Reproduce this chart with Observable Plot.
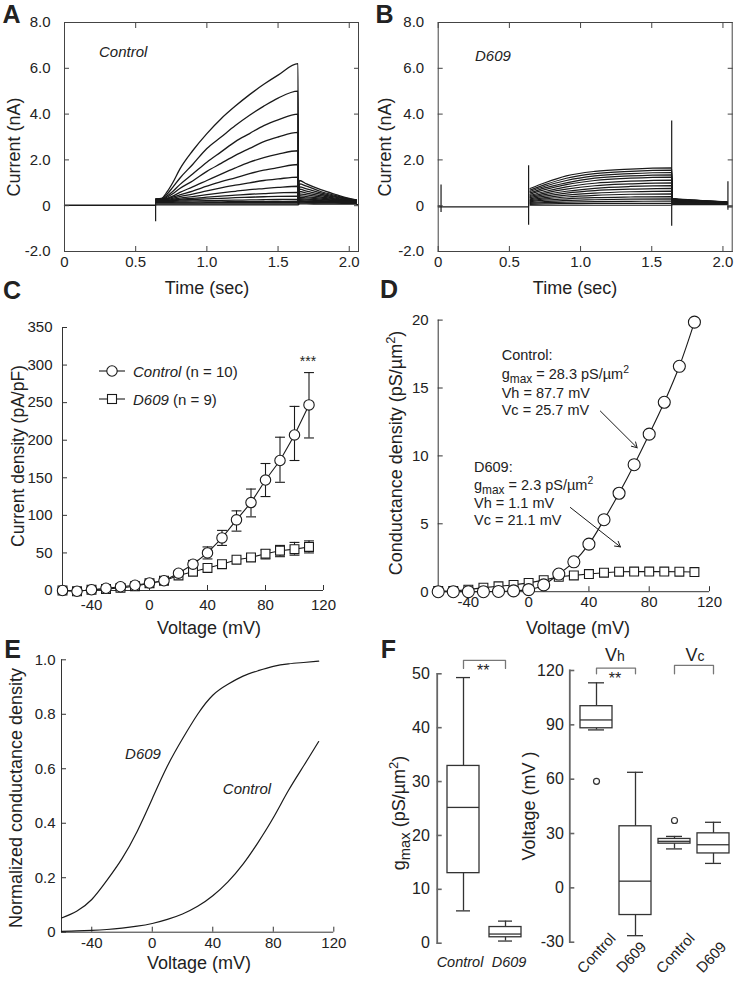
<!DOCTYPE html>
<html><head><meta charset="utf-8">
<script src="https://cdn.jsdelivr.net/npm/d3@7"></script>
<script src="https://cdn.jsdelivr.net/npm/@observablehq/plot@0.6"></script>
<style>
body{margin:0;background:#fff;}
#root{position:relative;width:743px;height:990px;overflow:hidden;font-family:"Liberation Sans",Arial,sans-serif;color:#222;background:#fff;}
.abs{position:absolute;white-space:nowrap;line-height:1;}
sub{font-size:0.82em;vertical-align:-0.35em;line-height:0;}
sup{font-size:0.72em;vertical-align:0.55em;line-height:0;}
</style>
</head><body><div id="root"></div>
<script>
// ---------- Panel A: Control current traces ----------
const timeTicks = [0, 0.5, 1.0, 1.5, 2.0];
const currTicks = [-2, 0, 2, 4, 6, 8];
const tA = [0.645,0.68,0.72,0.76,0.81,0.9,1.0,1.1,1.2,1.3,1.4,1.5,1.64,1.642,1.65,1.7,1.8,1.9,2.0,2.05];
const ctrlTraces = [
  [0.3,0.32,0.6,1.0,1.6,2.4,3.15,3.8,4.35,4.85,5.3,5.7,6.2,0.1,1.1,0.95,0.7,0.5,0.32,0.25],
  [0.3,0.3,0.5,0.8,1.2,1.8,2.5,3.0,3.5,3.95,4.35,4.7,5.0,0.1,0.95,0.85,0.62,0.45,0.3,0.25],
  [0.28,0.28,0.42,0.62,0.92,1.38,1.9,2.35,2.8,3.15,3.5,3.75,4.0,0.1,0.82,0.74,0.56,0.41,0.29,0.24],
  [0.27,0.27,0.37,0.52,0.75,1.08,1.5,1.85,2.2,2.5,2.8,3.0,3.2,0.1,0.72,0.64,0.5,0.37,0.27,0.23],
  [0.26,0.26,0.32,0.42,0.58,0.82,1.1,1.38,1.65,1.9,2.1,2.25,2.4,0.1,0.62,0.55,0.44,0.33,0.25,0.22],
  [0.25,0.25,0.3,0.37,0.47,0.64,0.85,1.05,1.22,1.4,1.55,1.66,1.8,0.1,0.52,0.47,0.38,0.3,0.23,0.21],
  [0.24,0.24,0.27,0.32,0.4,0.51,0.65,0.78,0.9,1.0,1.1,1.17,1.25,0.1,0.44,0.4,0.33,0.27,0.22,0.2],
  [0.23,0.23,0.25,0.28,0.33,0.4,0.48,0.56,0.63,0.7,0.75,0.8,0.85,0.1,0.37,0.34,0.29,0.24,0.21,0.19],
  [0.22,0.22,0.23,0.25,0.28,0.32,0.37,0.42,0.46,0.5,0.53,0.56,0.58,0.1,0.31,0.29,0.25,0.22,0.2,0.18],
  [0.2,0.2,0.21,0.22,0.24,0.27,0.3,0.32,0.35,0.37,0.39,0.41,0.42,0.1,0.26,0.25,0.22,0.2,0.18,0.17],
  [0.18,0.18,0.18,0.19,0.2,0.21,0.22,0.23,0.24,0.25,0.26,0.27,0.28,0.1,0.22,0.21,0.19,0.18,0.17,0.16],
  [0.15,0.15,0.15,0.15,0.16,0.16,0.17,0.17,0.18,0.18,0.18,0.19,0.2,0.1,0.19,0.18,0.17,0.16,0.15,0.15],
  [0.12,0.12,0.12,0.12,0.12,0.12,0.13,0.13,0.13,0.13,0.13,0.13,0.13,0.1,0.16,0.15,0.14,0.14,0.13,0.13],
  [0.08,0.08,0.08,0.08,0.08,0.08,0.08,0.08,0.08,0.08,0.08,0.08,0.08,0.06,0.12,0.12,0.11,0.11,0.1,0.1],
  [0.04,0.04,0.04,0.04,0.04,0.04,0.04,0.04,0.04,0.04,0.04,0.04,0.04,0.04,0.08,0.08,0.07,0.07,0.07,0.07]
];
const baseTA = [0, 0.64, 2.052, 2.065];
const baseVA = [0.02, 0.02, 0.05, 0.05];
const baseSegA = [0, 0, 1, 1];
const spikeTA = [0.64];
const spikeLoA = [-0.7];
const spikeHiA = [0.3];

// ---------- Panel B: D609 current traces ----------
const tB = [0.645,0.75,0.9,1.1,1.35,1.64,1.645,1.8,2.03];
const d609Traces = [
  [0.75,1.0,1.3,1.5,1.6,1.65,0.32,0.25,0.17],
  [0.68,0.92,1.2,1.4,1.5,1.55,0.3,0.24,0.16],
  [0.62,0.85,1.1,1.3,1.4,1.45,0.29,0.23,0.16],
  [0.56,0.78,1.0,1.2,1.3,1.35,0.28,0.22,0.15],
  [0.5,0.7,0.92,1.1,1.2,1.25,0.27,0.21,0.15],
  [0.45,0.62,0.82,0.98,1.07,1.12,0.26,0.2,0.14],
  [0.4,0.55,0.72,0.87,0.95,1.0,0.25,0.19,0.14],
  [0.35,0.48,0.63,0.76,0.84,0.88,0.24,0.18,0.13],
  [0.3,0.42,0.55,0.66,0.72,0.76,0.22,0.17,0.13],
  [0.26,0.35,0.46,0.55,0.61,0.64,0.2,0.16,0.12],
  [0.22,0.3,0.38,0.45,0.5,0.52,0.18,0.15,0.12],
  [0.18,0.24,0.3,0.35,0.38,0.4,0.16,0.14,0.11],
  [0.14,0.18,0.23,0.26,0.29,0.3,0.14,0.12,0.1],
  [0.1,0.13,0.16,0.18,0.19,0.2,0.12,0.11,0.09],
  [0.06,0.08,0.09,0.1,0.1,0.1,0.1,0.09,0.08],
  [0.02,0.02,0.02,0.02,0.02,0.02,0.05,0.05,0.05]
];
const baseTB = [0, 0.635, 2.035, 2.065];
const baseVB = [-0.05, -0.05, -0.05, -0.05];
const baseSegB = [0, 0, 1, 1];
const spikeTB = [0.02, 0.635, 1.64, 2.035];
const spikeLoB = [-0.3, -0.85, -0.9, -0.2];
const spikeHiB = [0.9, 1.75, 3.7, 1.05];

// ---------- Panel C: current density ----------
const voltTicks = [-40, 0, 40, 80, 120];
const densTicks = [0, 50, 100, 150, 200, 250, 300, 350];
const voltC = [-60,-50,-40,-30,-20,-10,0,10,20,30,40,50,60,70,80,90,100,110];
const ctrlC = [0,-1,1,3,5,7,10,13,23,35,50,70,94,117,147,173,207,247];
const d609C = [0,-1,1,2,3.5,5.7,9.7,13,20,25,30,35,41,44,49,53,55,58];
const ctrlErrV = [30,40,50,60,70,80,90,100,110];
const ctrlErrLo = [30,42,60,79,98,125,144,173,203];
const ctrlErrHi = [40,58,80,106,135,169,204,245,290];
const d609ErrV = [70,80,90,100,110];
const d609ErrLo = [40,42,45,47,50];
const d609ErrHi = [48,54,60,64,66];

// ---------- Panel D: conductance density ----------
const condTicks = [0, 5, 10, 15, 20];
const voltD = [-60,-50,-40,-30,-20,-10,0,10,20,30,40,50,60,70,80,90,100,110];
const ctrlD = [0,0,0,0,0.02,0.06,0.15,0.5,1.3,2.2,3.5,5.3,7.25,9.35,11.6,13.95,16.6,19.85];
const d609D = [0.05,0.05,0.15,0.3,0.4,0.5,0.65,0.85,1.1,1.2,1.3,1.4,1.47,1.48,1.48,1.48,1.47,1.45];
const arrowsD = [
  {x1: 47.6, y1: 13.3, x2: 72, y2: 10.6},
  {x1: 27.7, y1: 6.2, x2: 60.9, y2: 3.3}
];

// ---------- Panel E: normalized conductance ----------
const normTicks = [0, 0.2, 0.4, 0.6, 0.8, 1.0];
const voltE = [-60,-50,-40,-30,-20,-10,0,10,20,30,40,50,60,70,80,90,100,110];
const d609E = [0.052,0.077,0.12,0.19,0.27,0.37,0.49,0.61,0.71,0.8,0.87,0.91,0.94,0.96,0.976,0.985,0.99,0.995];
const ctrlE = [0.003,0.005,0.007,0.01,0.015,0.022,0.032,0.047,0.067,0.095,0.134,0.185,0.25,0.33,0.42,0.52,0.61,0.70];

// ---------- Panel F: box plots ----------
const gGroups = ["Control", "D609"];
const gLo = [6, 0.4], gQ1 = [13, 1.1], gMed = [25.2, 1.7], gQ3 = [32.9, 3.0], gHi = [49.3, 4.1];
const gTicks = [0, 10, 20, 30, 40, 50];
const vKeys = ["VhC", "VhD", "VcC", "VcD"];
const vLabels = ["Control", "D609", "Control", "D609"];
const vLo = [87.2, -26.4, 21.5, 13.5], vQ1 = [88.1, -15, 24.4, 19], vMed = [92.7, 3.7, 25.7, 23.8], vQ3 = [100.3, 34, 27, 30.1], vHi = [113.2, 63.8, 28.4, 36.2];
const vOutKey = ["VhC", "VcC"], vOutVal = [58.8, 37.2];
const vTicks = [-30, 0, 30, 60, 90, 120];

// ================= drawing =================
const root = document.getElementById("root");
const FONT = '"Liberation Sans", Arial, sans-serif';
const INK = "#1a1a1a";
const style = {fontFamily: FONT, fontSize: "15px", color: "#222", background: "transparent", overflow: "visible"};
const fmt1 = d => d === 0 ? "0" : d.toFixed(1);
const fmtInt = d => String(d);

function place(svg, left, top) {
  svg.style.position = "absolute";
  svg.style.left = left + "px";
  svg.style.top = top + "px";
  root.appendChild(svg);
}
function label(html, x, y, o = {}) {
  const d = document.createElement("div");
  d.className = "abs";
  d.innerHTML = html;
  d.style.left = x + "px";
  d.style.top = y + "px";
  d.style.fontSize = (o.size || 18) + "px";
  if (o.bold) d.style.fontWeight = "bold";
  if (o.italic) d.style.fontStyle = "italic";
  const ax = o.anchor === "start" ? "0" : "-50%";
  d.style.transform = `translate(${ax},-50%)` + (o.rotate ? ` rotate(${o.rotate}deg)` : "");
  root.appendChild(d);
}
const capSymbol = {draw(ctx, size) { const w = Math.sqrt(size) / 2; ctx.moveTo(-w, 0); ctx.lineTo(w, 0); }};

// ---- A ----
{
  const rows = ctrlTraces.flatMap((vals, k) => vals.map((v, i) => ({k, t: tA[i], v})));
  const base = baseTA.map((t, i) => ({t, v: baseVA[i], s: baseSegA[i]}));
  const spikes = spikeTA.map((t, i) => ({t, lo: spikeLoA[i], hi: spikeHiA[i]}));
  place(Plot.plot({
    width: 370, height: 300, marginLeft: 64, marginRight: 12, marginTop: 22, marginBottom: 49,
    style, x: {domain: [0, 2.065]}, y: {domain: [-2, 8]},
    marks: [
      Plot.line(base, {x: "t", y: "v", z: "s", stroke: INK, strokeWidth: 1.3}),
      Plot.line(rows, {x: "t", y: "v", z: "k", curve: "monotone-x", stroke: INK, strokeWidth: 1.3}),
      Plot.ruleX(spikes, {x: "t", y1: "lo", y2: "hi", stroke: INK, strokeWidth: 1.2}),
      Plot.frame({stroke: "#444"}),
      Plot.axisX({ticks: timeTicks, tickFormat: fmt1, tickSize: -5, tickPadding: 10, label: null, stroke: "#444"}),
      Plot.axisX({anchor: "top", ticks: timeTicks, tickSize: -5, fill: "none", label: null, stroke: "#444"}),
      Plot.axisY({ticks: currTicks, tickFormat: fmt1, tickSize: -5, tickPadding: 19, label: null, stroke: "#444"}),
      Plot.axisY({anchor: "right", ticks: currTicks, tickSize: -5, fill: "none", label: null, stroke: "#444"})
    ]
  }), 0, 0);
}
// ---- B ----
{
  const rows = d609Traces.flatMap((vals, k) => vals.map((v, i) => ({k, t: tB[i], v})));
  const base = baseTB.map((t, i) => ({t, v: baseVB[i], s: baseSegB[i]}));
  const spikes = spikeTB.map((t, i) => ({t, lo: spikeLoB[i], hi: spikeHiB[i]}));
  place(Plot.plot({
    width: 373, height: 300, marginLeft: 67.7, marginRight: 11.3, marginTop: 22, marginBottom: 49,
    style, x: {domain: [0, 2.065]}, y: {domain: [-2, 8]},
    marks: [
      Plot.line(base, {x: "t", y: "v", z: "s", stroke: INK, strokeWidth: 1.3}),
      Plot.line(rows, {x: "t", y: "v", z: "k", curve: "monotone-x", stroke: INK, strokeWidth: 1.2}),
      Plot.ruleX(spikes, {x: "t", y1: "lo", y2: "hi", stroke: INK, strokeWidth: 1.2}),
      Plot.frame({stroke: "#444"}),
      Plot.axisX({ticks: timeTicks, tickFormat: fmt1, tickSize: -5, tickPadding: 10, label: null, stroke: "#444"}),
      Plot.axisX({anchor: "top", ticks: timeTicks, tickSize: -5, fill: "none", label: null, stroke: "#444"}),
      Plot.axisY({ticks: currTicks, tickFormat: fmt1, tickSize: -5, tickPadding: 19, label: null, stroke: "#444"}),
      Plot.axisY({anchor: "right", ticks: currTicks, tickSize: -5, fill: "none", label: null, stroke: "#444"})
    ]
  }), 370, 0);
}
// ---- C ----
{
  const ctrl = voltC.map((v, i) => ({v, y: ctrlC[i]}));
  const d609 = voltC.map((v, i) => ({v, y: d609C[i]}));
  const ce = ctrlErrV.map((v, i) => ({v, lo: ctrlErrLo[i], hi: ctrlErrHi[i]}));
  const de = d609ErrV.map((v, i) => ({v, lo: d609ErrLo[i], hi: d609ErrHi[i]}));
  const err = [...ce, ...de];
  place(Plot.plot({
    width: 370, height: 320, marginLeft: 62, marginRight: 47, marginTop: 27, marginBottom: 30,
    style, x: {domain: [-60, 120]}, y: {domain: [0, 350]},
    marks: [
      Plot.ruleY([0], {stroke: "#333"}),
      Plot.ruleX([-60], {stroke: "#333"}),
      Plot.axisX({ticks: voltTicks, tickFormat: fmtInt, tickSize: -5, tickPadding: 14, label: null, stroke: "#333"}),
      Plot.axisY({ticks: densTicks, tickFormat: fmtInt, tickSize: -5, tickPadding: 15, label: null, stroke: "#333"}),
      Plot.ruleX(err, {x: "v", y1: "lo", y2: "hi", stroke: INK, strokeWidth: 1.1}),
      Plot.dot(err, {x: "v", y: "lo", symbol: capSymbol, r: 5.6, fill: "none", stroke: INK, strokeWidth: 1.1}),
      Plot.dot(err, {x: "v", y: "hi", symbol: capSymbol, r: 5.6, fill: "none", stroke: INK, strokeWidth: 1.1}),
      Plot.line(d609, {x: "v", y: "y", stroke: INK, strokeWidth: 1.1}),
      Plot.line(ctrl, {x: "v", y: "y", stroke: INK, strokeWidth: 1.1}),
      Plot.dot(d609, {x: "v", y: "y", symbol: "square", r: 5, fill: "white", stroke: INK, strokeWidth: 1.1}),
      Plot.dot(ctrl, {x: "v", y: "y", symbol: "circle", r: 5.2, fill: "white", stroke: INK, strokeWidth: 1.1})
    ]
  }), 0, 300);
}
// ---- D ----
{
  const ctrl = voltD.map((v, i) => ({v, y: ctrlD[i]}));
  const d609 = voltD.map((v, i) => ({v, y: d609D[i]}));
  place(Plot.plot({
    width: 373, height: 320, marginLeft: 67.7, marginRight: 34, marginTop: 19.6, marginBottom: 28.8,
    style, x: {domain: [-60, 120]}, y: {domain: [0, 20]},
    marks: [
      Plot.ruleY([0], {stroke: "#333"}),
      Plot.ruleX([-60], {stroke: "#333"}),
      Plot.axisX({ticks: voltTicks, tickFormat: fmtInt, tickSize: -5, tickPadding: 10, label: null, stroke: "#333"}),
      Plot.axisY({ticks: condTicks, tickFormat: fmtInt, tickSize: -5, tickPadding: 14.5, label: null, stroke: "#333"}),
      Plot.line(d609, {x: "v", y: "y", stroke: INK, strokeWidth: 1.1}),
      Plot.line(ctrl, {x: "v", y: "y", curve: "catmull-rom", stroke: INK, strokeWidth: 1.1}),
      Plot.dot(d609, {x: "v", y: "y", symbol: "square", r: 5, fill: "white", stroke: INK, strokeWidth: 1.1}),
      Plot.dot(ctrl, {x: "v", y: "y", symbol: "circle", r: 6, fill: "white", stroke: INK, strokeWidth: 1.1}),
      Plot.arrow(arrowsD, {x1: "x1", y1: "y1", x2: "x2", y2: "y2", stroke: INK, strokeWidth: 1, headLength: 9})
    ]
  }), 370, 300);
}
// ---- E ----
{
  const rows = [...voltE.map((v, i) => ({g: "D609", v, y: d609E[i]})), ...voltE.map((v, i) => ({g: "Control", v, y: ctrlE[i]}))];
  place(Plot.plot({
    width: 370, height: 340, marginLeft: 61, marginRight: 36.7, marginTop: 29.3, marginBottom: 38.3,
    style, x: {domain: [-60, 120]}, y: {domain: [0, 1]},
    marks: [
      Plot.ruleY([0], {stroke: "#333"}),
      Plot.ruleX([-60], {stroke: "#333"}),
      Plot.axisX({ticks: voltTicks, tickFormat: fmtInt, tickSize: -5, tickPadding: 10, label: null, stroke: "#333"}),
      Plot.axisY({ticks: normTicks, tickFormat: fmt1, tickSize: -5, tickPadding: 11, label: null, stroke: "#333"}),
      Plot.line(rows, {x: "v", y: "y", z: "g", curve: "natural", stroke: INK, strokeWidth: 1.2})
    ]
  }), 0, 630);
}
// ---- F left ----
{
  const box = gGroups.map((g, i) => ({g, lo: gLo[i], q1: gQ1[i], med: gMed[i], q3: gQ3[i], hi: gHi[i]}));
  const bracket = [{g: "Control", y: 51}, {g: "Control", y: 52.5}, {g: "D609", y: 52.5}, {g: "D609", y: 51}];
  place(Plot.plot({
    width: 170, height: 340, marginLeft: 66.7, marginRight: 10, marginTop: 33.3, marginBottom: 37.3,
    style: {...style, fontSize: "16px"},
    x: {type: "band", axis: null, domain: gGroups, range: [71.4, 156.4], paddingInner: 0.25, paddingOuter: 0.125},
    y: {domain: [0, 50]},
    marks: [
      Plot.axisY({ticks: gTicks, tickFormat: fmtInt, tickSize: -5, tickPadding: 12.4, label: null, stroke: "#666", strokeWidth: 1.6}),
      Plot.frame({anchor: "left", stroke: "#666", strokeWidth: 1.8}),
      Plot.ruleX(box, {x: "g", y1: "lo", y2: "hi", stroke: "#333", strokeWidth: 1.3}),
      Plot.barY(box, {x: "g", y1: "q1", y2: "q3", fill: "white", stroke: "#333", strokeWidth: 1.3}),
      Plot.tickY(box, {x: "g", y: "med", stroke: "#333", strokeWidth: 1.3}),
      Plot.tickY(box, {x: "g", y: "lo", insetLeft: 9, insetRight: 9, stroke: "#333", strokeWidth: 1.3}),
      Plot.tickY(box, {x: "g", y: "hi", insetLeft: 9, insetRight: 9, stroke: "#333", strokeWidth: 1.3}),
      Plot.line(bracket, {x: "g", y: "y", stroke: "#777", strokeWidth: 1.3})
    ]
  }), 370, 640);
}
// ---- F right ----
{
  const box = vKeys.map((k, i) => ({k, lo: vLo[i], q1: vQ1[i], med: vMed[i], q3: vQ3[i], hi: vHi[i]}));
  const outs = vOutKey.map((k, i) => ({k, y: vOutVal[i]}));
  const brackets = [
    {b: 0, k: "VhC", y: 118.2}, {b: 0, k: "VhC", y: 121.3}, {b: 0, k: "VhD", y: 121.3}, {b: 0, k: "VhD", y: 118.2},
    {b: 1, k: "VcC", y: 118.2}, {b: 1, k: "VcC", y: 122.8}, {b: 1, k: "VcD", y: 122.8}, {b: 1, k: "VcD", y: 118.2}
  ];
  place(Plot.plot({
    width: 243, height: 340, marginLeft: 69.3, marginRight: 10, marginTop: 30, marginBottom: 38.3,
    style: {...style, fontSize: "16px"},
    x: {type: "band", axis: null, domain: vKeys, range: [75.3, 232.9], paddingInner: 0.18, paddingOuter: 0.09},
    y: {domain: [-30, 120]},
    marks: [
      Plot.axisY({ticks: vTicks, tickFormat: fmtInt, tickSize: -5, tickPadding: 11, label: null, stroke: "#666", strokeWidth: 1.6}),
      Plot.frame({anchor: "left", stroke: "#666", strokeWidth: 1.8}),
      Plot.ruleX(box, {x: "k", y1: "lo", y2: "hi", stroke: "#333", strokeWidth: 1.3}),
      Plot.barY(box, {x: "k", y1: "q1", y2: "q3", fill: "white", stroke: "#333", strokeWidth: 1.3}),
      Plot.tickY(box, {x: "k", y: "med", stroke: "#333", strokeWidth: 1.3}),
      Plot.tickY(box, {x: "k", y: "lo", insetLeft: 8, insetRight: 8, stroke: "#333", strokeWidth: 1.3}),
      Plot.tickY(box, {x: "k", y: "hi", insetLeft: 8, insetRight: 8, stroke: "#333", strokeWidth: 1.3}),
      Plot.dot(outs, {x: "k", y: "y", r: 3, fill: "white", stroke: "#333", strokeWidth: 1.2}),
      Plot.line(brackets, {x: "k", y: "y", z: "b", stroke: "#777", strokeWidth: 1.3})
    ]
  }), 500, 640);
}

// ---- text overlays ----
label("A", 11.5, 14, {size: 25, bold: true});
label("B", 384.5, 14, {size: 25, bold: true});
label("C", 12, 290, {size: 25, bold: true});
label("D", 389, 289, {size: 25, bold: true});
label("E", 12.5, 649, {size: 25, bold: true});
label("F", 388.5, 649, {size: 25, bold: true});

label("Control", 99, 51, {size: 15, italic: true, anchor: "start"});
label("D609", 475, 55, {size: 15, italic: true, anchor: "start"});

label("Current (nA)", 14, 147, {rotate: -90});
label("Current (nA)", 385, 147, {rotate: -90});
label("Time (sec)", 207, 288);
label("Time (sec)", 575, 288);

label("Current density (pA/pF)", 19, 456, {rotate: -90, size: 17.5});
label("Voltage (mV)", 209, 628);
label("Conductance density (pS/µm<sup>2</sup>)", 396, 453, {rotate: -90});
label("Voltage (mV)", 578, 628);
label("***", 308, 361, {size: 14});

function legendRow(x, y, shape, html) {
  const d = document.createElement("div");
  d.className = "abs";
  d.style.left = x + "px"; d.style.top = y + "px";
  d.style.transform = "translate(0,-50%)";
  d.style.fontSize = "15px"; d.style.display = "flex"; d.style.alignItems = "center";
  const mk = shape === "circle"
    ? '<circle cx="14" cy="8" r="5.2" fill="white" stroke="#1a1a1a" stroke-width="1.1"/>'
    : '<rect x="9.5" y="3.5" width="9" height="9" fill="white" stroke="#1a1a1a" stroke-width="1.1"/>';
  d.innerHTML = `<svg width="28" height="16" style="margin-right:7px;display:block"><line x1="1" y1="8" x2="27" y2="8" stroke="#1a1a1a" stroke-width="1.1"/>${mk}</svg><span>${html}</span>`;
  root.appendChild(d);
}
legendRow(98, 371, "circle", "<i>Control</i> (n = 10)");
legendRow(98, 399, "square", "<i>D609</i> (n = 9)");

label("Control:", 501.7, 355, {size: 14.5, anchor: "start"});
label("g<sub>max</sub> = 28.3 pS/µm<sup>2</sup>", 501.7, 374, {size: 14.5, anchor: "start"});
label("Vh = 87.7 mV", 501.7, 393.3, {size: 14.5, anchor: "start"});
label("Vc = 25.7 mV", 501.7, 410, {size: 14.5, anchor: "start"});
label("D609:", 474, 466.7, {size: 14.5, anchor: "start"});
label("g<sub>max</sub> = 2.3 pS/µm<sup>2</sup>", 474, 485, {size: 14.5, anchor: "start"});
label("Vh = 1.1 mV", 474, 503.3, {size: 14.5, anchor: "start"});
label("Vc = 21.1 mV", 474, 520, {size: 14.5, anchor: "start"});

label("Normalized conductance density", 15.5, 798, {rotate: -90});
label("Voltage (mV)", 199, 963);
label("D609", 143, 753, {size: 15, italic: true});
label("Control", 247, 788, {size: 15, italic: true});

label("g<sub>max</sub> (pS/µm<sup>2</sup>)", 399, 813, {rotate: -90, size: 18});
label("Voltage (mV )", 529.3, 806, {rotate: -90});
label("Control", 460, 962, {size: 14.5, italic: true});
label("D609", 509, 962, {size: 14.5, italic: true});
label("Control", 596, 953, {size: 15, rotate: -47});
label("D609", 631, 957, {size: 15, rotate: -47});
label("Control", 675, 953, {size: 15, rotate: -47});
label("D609", 711, 957, {size: 15, rotate: -47});
label("**", 483.3, 671, {size: 16});
label("**", 615, 679, {size: 16});
label("V<span style=\"font-size:14px\">h</span>", 615, 655, {size: 18});
label("V<span style=\"font-size:14px\">c</span>", 695, 655, {size: 18});
</script>
</body></html>
